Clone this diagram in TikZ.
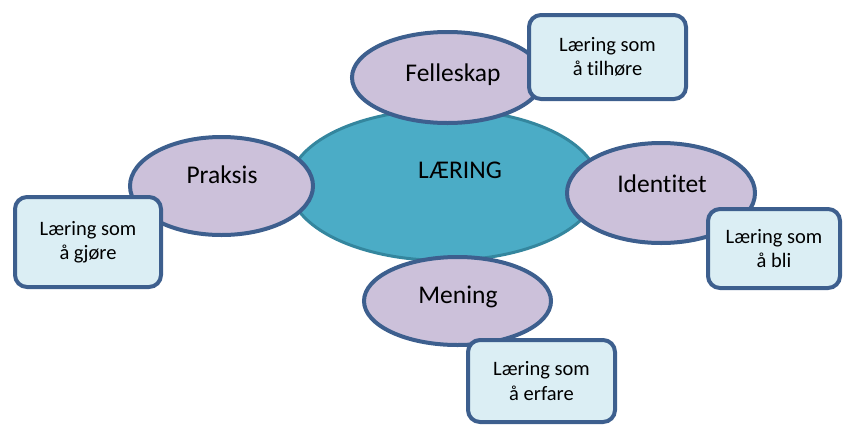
\documentclass[tikz,border=0pt]{standalone}
\usepackage{fontspec}
\setmainfont{Carlito}[Ligatures=NoCommon]
\usetikzlibrary{shapes.geometric}

\definecolor{corefill}{HTML}{4BACC6}
\definecolor{coreline}{HTML}{34869E}
\definecolor{lilac}{HTML}{CCC1DA}
\definecolor{navyline}{HTML}{3D5F8E}
\definecolor{paleblue}{HTML}{DBEEF4}

\begin{document}
\begin{tikzpicture}[
  x=1pt, y=-1pt,
  core/.style={ellipse, draw=coreline, fill=corefill, line width=3pt, inner sep=0pt},
  aspect/.style={ellipse, draw=navyline, fill=lilac, line width=4pt, inner sep=0pt},
  word/.style={anchor=base, inner sep=0pt, font=\fontsize{25.5}{30}\selectfont},
  note/.style={draw=navyline, fill=paleblue, line width=4pt, rounded corners=12pt,
               align=center, inner sep=0pt, font=\fontsize{20.5}{24.5}\selectfont}
]
\useasboundingbox (0,0) rectangle (850,426);

% centre
\node[core, minimum width=309pt, minimum height=151pt] (laering) at (444,185) {};
\node[word] (laering-t) at (460,178) {LÆRING};

% four aspects
\node[aspect, minimum width=191pt, minimum height=91pt] (felleskap) at (447.5,77.5) {};
\node[word] (felleskap-t) at (453,81) {Felleskap};
\node[aspect, minimum width=183pt, minimum height=98pt] (praksis) at (221.5,186) {};
\node[word] (praksis-t) at (222,183) {Praksis};
\node[aspect, minimum width=188pt, minimum height=100pt] (identitet) at (661,193) {};
\node[word] (identitet-t) at (662,192) {Identitet};
\node[aspect, minimum width=187pt, minimum height=88pt] (mening) at (457.5,301) {};
\node[word] (mening-t) at (458,303) {Mening};

% notes
\node[note, minimum width=157pt, minimum height=84pt] (tilhore) at (607.5,57) {Læring som\\å tilhøre};
\node[note, minimum width=146pt, minimum height=90pt] (gjore) at (88,242) {Læring som\\å gjøre};
\node[note, minimum width=132pt, minimum height=79pt] (bli) at (774,248.5) {Læring som\\å bli};
\node[note, minimum width=147pt, minimum height=82pt] (erfare) at (541.5,381) {Læring som\\å erfare};
\end{tikzpicture}
\end{document}
